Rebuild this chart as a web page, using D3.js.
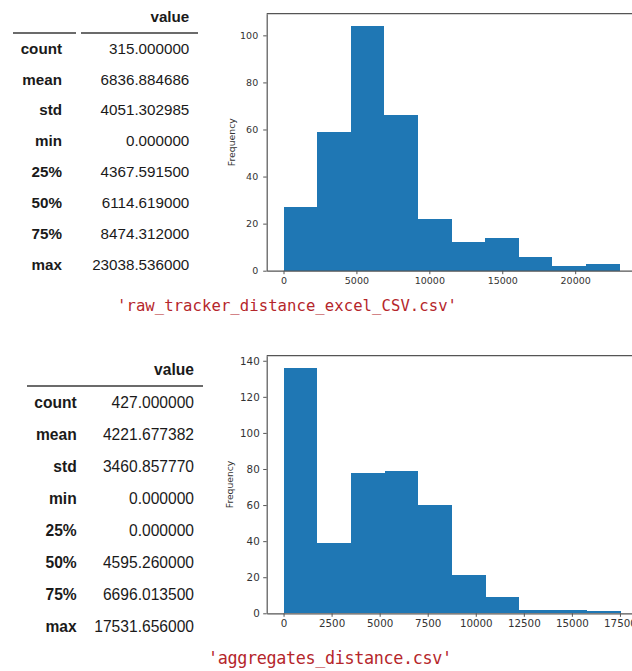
<!DOCTYPE html>
<html>
<head>
<meta charset="utf-8">
<script src="https://cdn.jsdelivr.net/npm/d3@7"></script>
<style>
  html, body { margin: 0; padding: 0; background: #ffffff; overflow: hidden; }
  svg { display: block; }
</style>
</head>
<body>
<svg id="chart" width="632" height="671"></svg>
<script>
// ---------- data ----------
const statNames = ["count", "mean", "std", "min", "25%", "50%", "75%", "max"];
const rawStats = ["315.000000", "6836.884686", "4051.302985", "0.000000",
                  "4367.591500", "6114.619000", "8474.312000", "23038.536000"];
const aggStats = ["427.000000", "4221.677382", "3460.857770", "0.000000",
                  "0.000000", "4595.260000", "6696.013500", "17531.656000"];

const rawMin = 0, rawMax = 23038.536;
const rawCounts = [27, 59, 104, 66, 22, 12, 14, 6, 2, 3];
const rawTicksX = [0, 5000, 10000, 15000, 20000];
const rawTicksY = [0, 20, 40, 60, 80, 100];

const aggMin = 0, aggMax = 17531.656;
const aggCounts = [136, 39, 78, 79, 60, 21, 9, 2, 2, 1];
const aggTicksX = [0, 2500, 5000, 7500, 10000, 12500, 15000, 17500];
const aggTicksY = [0, 20, 40, 60, 80, 100, 120, 140];

const rawCaption = "'raw_tracker_distance_excel_CSV.csv'";
const aggCaption = "'aggregates_distance.csv'";
const headerLabel = "value";
const yLabel = "Frequency";

// ---------- drawing ----------
const svg = d3.select("#chart");

function drawTable(cfg, values) {
  const g = svg.append("g");
  g.append("text")
    .attr("x", cfg.valRight).attr("y", cfg.headerY)
    .attr("text-anchor", "end").attr("dominant-baseline", "central")
    .style("font-family", "'Liberation Sans', Arial, sans-serif")
    .style("font-weight", "bold").style("font-size", cfg.fs + "px")
    .style("fill", "#1a1a1a").text(headerLabel);
  cfg.lines.forEach(l => {
    g.append("line").attr("x1", l[0]).attr("x2", l[1])
      .attr("y1", cfg.lineY).attr("y2", cfg.lineY)
      .attr("stroke", "#3a3a3a").attr("stroke-width", 1.6);
  });
  const rowY = d3.scaleLinear().domain([0, statNames.length - 1]).range([cfg.row0, cfg.rowN]);
  statNames.forEach((n, i) => {
    g.append("text")
      .attr("x", cfg.labRight).attr("y", rowY(i))
      .attr("text-anchor", "end").attr("dominant-baseline", "central")
      .style("font-family", "'Liberation Sans', Arial, sans-serif")
      .style("font-weight", "bold").style("font-size", cfg.fs + "px")
      .style("fill", "#1a1a1a").text(n);
    g.append("text")
      .attr("x", cfg.valRight).attr("y", rowY(i))
      .attr("text-anchor", "end").attr("dominant-baseline", "central")
      .style("font-family", "'Liberation Sans', Arial, sans-serif")
      .style("font-size", cfg.fs + "px")
      .style("fill", "#1a1a1a").text(values[i]);
  });
}

function drawHist(cfg, counts, vmin, vmax, ticksX, ticksY) {
  const span = vmax - vmin;
  const x = d3.scaleLinear()
    .domain([vmin - 0.05 * span, vmax + 0.05 * span])
    .range([cfg.left, cfg.right]);
  const yTop = d3.max(counts) * 1.05;
  const y = d3.scaleLinear().domain([0, yTop]).range([cfg.bottom, cfg.top]);
  const nb = counts.length;
  const edges = d3.range(nb + 1).map(i => vmin + i * span / nb);
  const g = svg.append("g");

  g.selectAll("rect.bar").data(counts).join("rect")
    .attr("class", "bar")
    .attr("x", (d, i) => x(edges[i]))
    .attr("width", (d, i) => x(edges[i + 1]) - x(edges[i]))
    .attr("y", d => y(d))
    .attr("height", d => y(0) - y(d))
    .attr("fill", "#1f77b4")
    .attr("shape-rendering", "crispEdges");

  const axColor = "#555555";
  const xAxis = g.append("g").attr("transform", `translate(0,${cfg.bottom})`)
    .call(d3.axisBottom(x).tickValues(ticksX).tickFormat(d3.format("d"))
      .tickSize(3.5).tickSizeOuter(0).tickPadding(3));
  const yAxis = g.append("g").attr("transform", `translate(${cfg.left},0)`)
    .call(d3.axisLeft(y).tickValues(ticksY).tickFormat(d3.format("d"))
      .tickSize(3.5).tickSizeOuter(0).tickPadding(cfg.ypad));
  [xAxis, yAxis].forEach(a => {
    a.select(".domain").attr("stroke", axColor).attr("stroke-width", 1.2);
    a.selectAll(".tick line").attr("stroke", axColor).attr("stroke-width", 1);
    a.selectAll(".tick text")
      .style("font-family", "'DejaVu Sans', sans-serif")
      .style("font-size", cfg.tfs + "px").style("fill", "#333333");
  });
  // top spine
  g.append("line")
    .attr("x1", x.range()[0]).attr("x2", x.range()[1])
    .attr("y1", y.range()[1]).attr("y2", y.range()[1])
    .attr("stroke", axColor).attr("stroke-width", 1.2);

  g.append("text")
    .attr("transform", `translate(${cfg.ylabX},${(cfg.top + cfg.bottom) / 2}) rotate(-90)`)
    .attr("text-anchor", "middle").attr("dominant-baseline", "central")
    .style("font-family", "'DejaVu Sans', sans-serif")
    .style("font-size", cfg.lfs + "px").style("fill", "#333333")
    .text(yLabel);
}

function drawCaption(cfg, txt) {
  svg.append("text")
    .attr("x", cfg.x).attr("y", cfg.y)
    .attr("dominant-baseline", "central")
    .attr("textLength", cfg.w).attr("lengthAdjust", "spacing")
    .style("font-family", "'DejaVu Sans Mono', 'Liberation Mono', monospace")
    .style("font-size", cfg.fs + "px").style("fill", "#b5262b")
    .text(txt);
}

// top block
drawTable({ fs: 15.2, headerY: 16.7, lineY: 33, lines: [[13, 76], [81, 198]],
            labRight: 62, valRight: 189.3, row0: 48.3, rowN: 264 }, rawStats);
drawHist({ left: 266.7, right: 636.3, top: 13.7, bottom: 270.7, tfs: 9.5, ypad: 5,
           ylabX: 231, lfs: 9.3 }, rawCounts, rawMin, rawMax, rawTicksX, rawTicksY);
drawCaption({ x: 117, y: 305.5, w: 340, fs: 15.6 }, rawCaption);

// bottom block
drawTable({ fs: 15.6, headerY: 369.3, lineY: 386, lines: [[27, 203]],
            labRight: 76.7, valRight: 194, row0: 402.7, rowN: 626 }, aggStats);
drawHist({ left: 266.7, right: 637.4, top: 355.7, bottom: 613.3, tfs: 10.3, ypad: 3.5,
           ylabX: 229, lfs: 9.2 }, aggCounts, aggMin, aggMax, aggTicksX, aggTicksY);
drawCaption({ x: 208, y: 658, w: 244, fs: 16.8 }, aggCaption);
</script>
</body>
</html>
